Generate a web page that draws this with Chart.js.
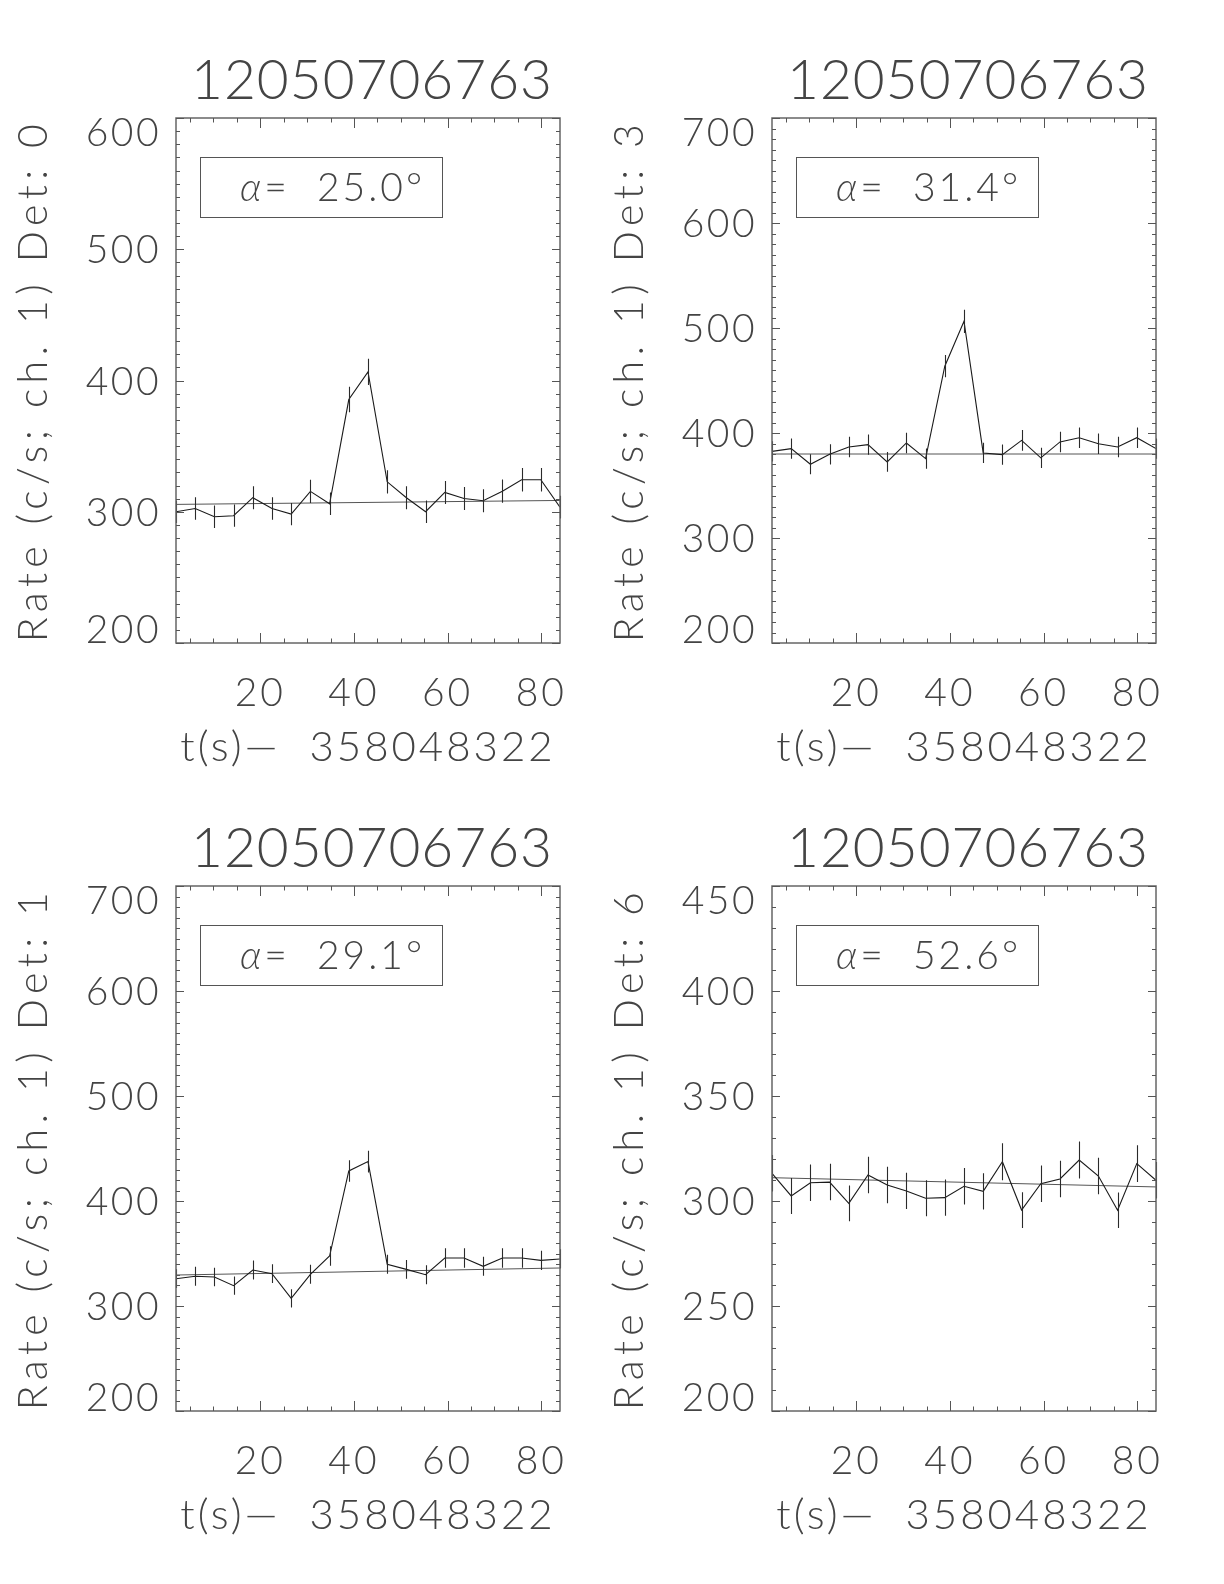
<!DOCTYPE html>
<html>
<head>
<meta charset="utf-8">
<script src="https://cdn.jsdelivr.net/npm/chart.js@4.4.1/dist/chart.umd.min.js"></script>
<style>
    html, body { margin: 0; padding: 0; background: #fff; }
    body { width: 1224px; height: 1584px; position: relative; overflow: hidden; }
    .panel { position: absolute; width: 600px; height: 768px; }
</style>
</head>
<body>
<div class="panel" style="left:0;top:0"><canvas id="det0"></canvas></div>
<div class="panel" style="left:596px;top:0"><canvas id="det3"></canvas></div>
<div class="panel" style="left:0;top:768px"><canvas id="det1"></canvas></div>
<div class="panel" style="left:596px;top:768px"><canvas id="det6"></canvas></div>
<script>
// bin times, seconds after 358048322
const timeBins = [2.0, 6.1, 10.2, 14.3, 18.4, 22.5, 26.6, 30.7, 34.8, 38.9, 43.0,
    47.1, 51.2, 55.3, 59.4, 63.5, 67.6, 71.7, 75.8, 79.9, 84.0];
const xTicks = [20, 40, 60, 80];

const det0Rate = [300.0, 302.5, 296.2, 297.0, 310.7, 302.5, 298.2, 315.5, 306.1, 385.5, 406.6,
    322.8, 310.7, 300.0, 314.7, 310.1, 308.4, 315.7, 324.4, 324.4, 303.5];
const det0Err = [8.6, 8.6, 8.5, 8.5, 8.7, 8.6, 8.5, 8.8, 8.6, 9.7, 10.0,
    8.9, 8.7, 8.6, 8.8, 8.7, 8.7, 8.8, 8.9, 8.9, 8.6];
const det0Fit = [305.6, 308.6];
const det0Ticks = [200, 300, 400, 500, 600];

const det3Rate = [382.5, 385.1, 370.2, 379.7, 386.7, 388.9, 372.5, 390.5, 375.6, 463.6, 506.4,
    381.0, 379.4, 393.0, 376.3, 391.5, 395.5, 389.8, 386.7, 395.5, 385.1];
const det3Err = [9.6, 9.7, 9.5, 9.6, 9.7, 9.7, 9.5, 9.8, 9.6, 10.6, 11.1,
    9.6, 9.6, 9.8, 9.6, 9.8, 9.8, 9.7, 9.7, 9.8, 9.7];
const det3Fit = [380.0, 380.0];
const det3Ticks = [200, 300, 400, 500, 600, 700];

const det1Rate = [326.0, 328.3, 327.6, 319.4, 334.3, 330.8, 307.3, 330.2, 347.6, 428.6, 437.5,
    339.7, 334.9, 329.8, 345.7, 345.7, 337.8, 345.7, 345.7, 343.5, 344.8];
const det1Err = [8.9, 9.0, 8.9, 8.8, 9.0, 9.0, 8.7, 9.0, 9.2, 10.2, 10.3,
    9.1, 9.0, 9.0, 9.2, 9.2, 9.1, 9.2, 9.2, 9.2, 9.2];
const det1Fit = [329.5, 336.2];
const det1Ticks = [200, 300, 400, 500, 600, 700];

const det6Rate = [313.2, 302.4, 308.7, 309.0, 298.9, 312.4, 307.6, 304.8, 301.3, 301.6, 307.0,
    304.6, 318.7, 295.7, 308.2, 310.5, 319.5, 311.9, 295.6, 317.8, 309.9];
const det6Err = [8.7, 8.6, 8.7, 8.7, 8.5, 8.7, 8.7, 8.6, 8.6, 8.6, 8.7,
    8.6, 8.8, 8.5, 8.7, 8.7, 8.8, 8.7, 8.5, 8.8, 8.7];
const det6Fit = [311.1, 306.7];
const det6Ticks = [200, 250, 300, 350, 400, 450];

const burstId = '12050706763';
const xTitle = 't(s)\u2014  358048322';

const FONT = "Lato, 'DejaVu Sans', sans-serif";
const WEIGHT = 300;
const INK = '#444';
const LABEL_SIZE = 39;
const CAP = 0.72;

const panels = [
    { id: 'det0', det: 0, alpha: '25.0', rate: det0Rate, err: det0Err, fit: det0Fit, yTicks: det0Ticks },
    { id: 'det3', det: 3, alpha: '31.4', rate: det3Rate, err: det3Err, fit: det3Fit, yTicks: det3Ticks },
    { id: 'det1', det: 1, alpha: '29.1', rate: det1Rate, err: det1Err, fit: det1Fit, yTicks: det1Ticks },
    { id: 'det6', det: 6, alpha: '52.6', rate: det6Rate, err: det6Err, fit: det6Fit, yTicks: det6Ticks },
];

const makeDecor = (p) => ({
    id: 'idlDecor',
    beforeDraw(chart) {
        // wide Hershey-like spacing for the axis text chart.js draws
        chart.ctx.letterSpacing = '3px';
    },
    afterDatasetsDraw(chart) {
        const { ctx, chartArea: a, scales: { x, y } } = chart;
        ctx.save();

        // error bars
        ctx.strokeStyle = '#2a2a2a';
        ctx.lineWidth = 1.1;
        ctx.beginPath();
        p.rate.forEach((v, i) => {
            const px = Math.round(x.getPixelForValue(timeBins[i])) + 0.5;
            ctx.moveTo(px, y.getPixelForValue(v - p.err[i]));
            ctx.lineTo(px, y.getPixelForValue(v + p.err[i]));
        });
        ctx.stroke();

        // box
        ctx.strokeStyle = '#666';
        ctx.lineWidth = 1.5;
        ctx.strokeRect(a.left, a.top, a.right - a.left, a.bottom - a.top);

        // inward ticks on all four sides
        ctx.strokeStyle = '#555';
        ctx.lineWidth = 1;
        ctx.beginPath();
        for (let v = Math.ceil(x.min / 5) * 5; v <= x.max; v += 5) {
            const len = xTicks.includes(v) ? 10 : 4.5;
            const px = Math.round(x.getPixelForValue(v)) + 0.5;
            ctx.moveTo(px, a.bottom);
            ctx.lineTo(px, a.bottom - len);
            ctx.moveTo(px, a.top);
            ctx.lineTo(px, a.top + len);
        }
        for (let v = y.min; v <= y.max; v += 10) {
            const len = p.yTicks.includes(v) ? 8 : 4;
            const py = Math.round(y.getPixelForValue(v)) + 0.5;
            ctx.moveTo(a.left, py);
            ctx.lineTo(a.left + len, py);
            ctx.moveTo(a.right, py);
            ctx.lineTo(a.right - len, py);
        }
        ctx.stroke();
        ctx.restore();
    },
    afterDraw(chart) {
        const { ctx, chartArea: a, scales: { y } } = chart;
        const capH = LABEL_SIZE * CAP;
        ctx.save();
        ctx.fillStyle = INK;

        // title
        ctx.font = `${WEIGHT} 55px ${FONT}`;
        ctx.letterSpacing = '1px';
        ctx.textAlign = 'center';
        ctx.textBaseline = 'alphabetic';
        ctx.fillText(burstId, (a.left + a.right) / 2 + 4, a.top - 19);

        // y tick labels, end labels kept inside the axis span
        ctx.font = `${WEIGHT} ${LABEL_SIZE}px ${FONT}`;
        ctx.letterSpacing = '2.5px';
        ctx.textAlign = 'right';
        p.yTicks.forEach((v) => {
            const py = y.getPixelForValue(v);
            const base = Math.min(a.bottom, Math.max(a.top + capH, py + capH / 2));
            ctx.fillText(String(v), a.left - 15, base);
        });

        // y axis title
        ctx.save();
        ctx.font = `${WEIGHT} 41px ${FONT}`;
        ctx.translate(32, (a.top + a.bottom) / 2);
        ctx.rotate(-Math.PI / 2);
        ctx.letterSpacing = '5.4px';
        ctx.textAlign = 'center';
        ctx.fillText(`Rate (c/s; ch. 1) Det: ${p.det}`, 0, 41 * CAP / 2);
        ctx.restore();

        // angle box
        const bx = a.left + 24;
        const by = a.top + 39;
        ctx.strokeStyle = '#555';
        ctx.lineWidth = 1;
        ctx.strokeRect(Math.round(bx) + 0.5, Math.round(by) + 0.5, 242, 60);
        const base = by + 30 + capH / 2;
        let tx = bx + 40;
        ctx.textAlign = 'left';
        ctx.letterSpacing = '3px';
        ctx.font = `italic ${WEIGHT} ${LABEL_SIZE}px ${FONT}`;
        ctx.fillText('\u03b1', tx, base);
        tx += ctx.measureText('\u03b1').width;
        ctx.font = `${WEIGHT} ${LABEL_SIZE}px ${FONT}`;
        ctx.fillText(`=  ${p.alpha}\u00b0`, tx, base);

        ctx.restore();
    },
});

const makePanel = (p) => {
    const last = timeBins.length - 1;
    return new Chart(document.getElementById(p.id), {
        type: 'line',
        data: {
            datasets: [
                {
                    data: p.rate.map((v, i) => ({ x: timeBins[i], y: v })),
                    borderColor: '#1a1a1a',
                    borderWidth: 1.1,
                    pointRadius: 0,
                    tension: 0,
                },
                {
                    data: [{ x: timeBins[0], y: p.fit[0] }, { x: timeBins[last], y: p.fit[1] }],
                    borderColor: '#555',
                    borderWidth: 1,
                    pointRadius: 0,
                },
            ],
        },
        options: {
            responsive: true,
            maintainAspectRatio: false,
            animation: false,
            devicePixelRatio: 1,
            layout: { padding: { left: 0, top: 118, right: 40, bottom: 0 } },
            plugins: {
                legend: { display: false },
                tooltip: { enabled: false },
                title: { display: false },
            },
            scales: {
                x: {
                    type: 'linear',
                    min: timeBins[0],
                    max: timeBins[last],
                    grid: { display: false, drawTicks: false },
                    border: { display: false },
                    afterBuildTicks: (s) => { s.ticks = xTicks.map((v) => ({ value: v })); },
                    afterFit: (s) => { s.height = 125; },
                    ticks: {
                        font: { family: FONT, size: LABEL_SIZE, weight: WEIGHT },
                        color: INK,
                        padding: 27,
                        maxRotation: 0,
                        autoSkip: false,
                    },
                    title: {
                        display: true,
                        text: xTitle,
                        font: { family: FONT, size: 42, weight: WEIGHT, lineHeight: 1 },
                        color: INK,
                        padding: { top: 0, bottom: 0 },
                    },
                },
                y: {
                    type: 'linear',
                    min: p.yTicks[0],
                    max: p.yTicks[p.yTicks.length - 1],
                    grid: { display: false, drawTicks: false },
                    border: { display: false },
                    ticks: { display: false },
                    afterFit: (s) => { s.width = 176; },
                },
            },
        },
        plugins: [makeDecor(p)],
    });
};

panels.forEach(makePanel);
</script>
</body>
</html>
